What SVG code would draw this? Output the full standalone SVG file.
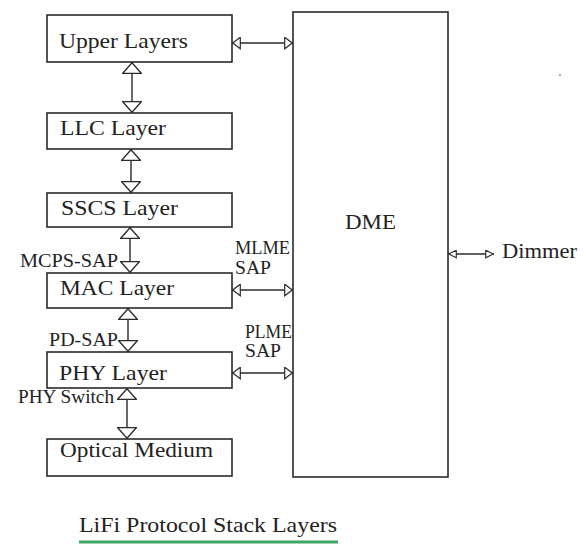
<svg xmlns="http://www.w3.org/2000/svg" width="586" height="554" viewBox="0 0 586 554">
<style>
.box{fill:#fff;stroke:#2a2a2a;stroke-width:1.6}
text{font-family:'Liberation Serif','DejaVu Serif',serif;fill:#222}
.lbl{font-size:22px}
.sm{font-size:18px}
.ln{stroke:#2a2a2a;stroke-width:1.4;fill:none}
.v{marker-start:url(#tv);marker-end:url(#tv)}
.h{marker-start:url(#th);marker-end:url(#th)}
.d{marker-start:url(#td);marker-end:url(#td)}
</style>
<defs>
<marker id="tv" viewBox="0 0 12 20" refX="12" refY="10" markerWidth="12" markerHeight="20" markerUnits="userSpaceOnUse" orient="auto-start-reverse">
<path d="M0.7,0.7 L11.3,10 L0.7,19.3 Z" fill="#fff" stroke="#2a2a2a" stroke-width="1.3"/>
</marker>
<marker id="th" viewBox="0 0 9 13" refX="9" refY="6.5" markerWidth="9" markerHeight="13" markerUnits="userSpaceOnUse" orient="auto-start-reverse">
<path d="M0.7,0.7 L8.3,6.5 L0.7,12.3 Z" fill="#fff" stroke="#2a2a2a" stroke-width="1.2"/>
</marker>
<marker id="td" viewBox="0 0 9 9" refX="9" refY="4.5" markerWidth="9" markerHeight="9" markerUnits="userSpaceOnUse" orient="auto-start-reverse">
<path d="M0.7,0.7 L8.3,4.5 L0.7,8.3 Z" fill="#fff" stroke="#2a2a2a" stroke-width="1.1"/>
</marker>
</defs>
<rect width="586" height="554" fill="#fff"/>

<g id="connectors">
<line class="ln v" x1="132" y1="62" x2="132" y2="113"/>
<line class="ln v" x1="131" y1="149" x2="131" y2="193"/>
<line class="ln v" x1="130" y1="227" x2="130" y2="273"/>
<line class="ln v" x1="128" y1="308" x2="128" y2="352"/>
<line class="ln v" x1="127" y1="388" x2="127" y2="439"/>
<line class="ln h" x1="232" y1="43" x2="293" y2="43"/>
<line class="ln h" x1="232" y1="290" x2="293" y2="290"/>
<line class="ln h" x1="232" y1="373" x2="293" y2="373"/>
<line class="ln d" x1="448" y1="254" x2="494" y2="254"/>
</g>

<g id="upper-layers">
<rect class="box" x="47" y="15" width="185" height="47"/>
<text class="lbl" x="59" y="48" textLength="129" lengthAdjust="spacingAndGlyphs">Upper Layers</text>
</g>
<g id="llc-layer">
<rect class="box" x="47" y="113" width="185" height="36"/>
<text class="lbl" x="60" y="135" textLength="106" lengthAdjust="spacingAndGlyphs">LLC Layer</text>
</g>
<g id="sscs-layer">
<rect class="box" x="47" y="193" width="185" height="34"/>
<text class="lbl" x="61" y="215" textLength="117" lengthAdjust="spacingAndGlyphs">SSCS Layer</text>
</g>
<g id="mac-layer">
<rect class="box" x="47" y="273" width="185" height="35"/>
<text class="lbl" x="60" y="295" textLength="114" lengthAdjust="spacingAndGlyphs">MAC Layer</text>
</g>
<g id="phy-layer">
<rect class="box" x="47" y="352" width="185" height="36"/>
<text class="lbl" x="59" y="380" textLength="108" lengthAdjust="spacingAndGlyphs">PHY Layer</text>
</g>
<g id="optical-medium">
<rect class="box" x="47" y="439" width="185" height="37"/>
<text class="lbl" x="60" y="457" textLength="153" lengthAdjust="spacingAndGlyphs">Optical Medium</text>
</g>
<g id="dme">
<rect class="box" x="293" y="12" width="155" height="465"/>
<text class="lbl" x="345" y="229" textLength="51" lengthAdjust="spacingAndGlyphs">DME</text>
</g>
<g id="dimmer">
<text class="lbl" x="502" y="258" textLength="75" lengthAdjust="spacingAndGlyphs">Dimmer</text>
</g>

<g id="labels">
<text class="sm" x="235" y="254" textLength="55" lengthAdjust="spacingAndGlyphs">MLME</text>
<text class="sm" x="235" y="274" textLength="36" lengthAdjust="spacingAndGlyphs">SAP</text>
<text class="sm" x="245" y="338" textLength="47" lengthAdjust="spacingAndGlyphs">PLME</text>
<text class="sm" x="245" y="357" textLength="36" lengthAdjust="spacingAndGlyphs">SAP</text>
<text class="sm" x="20" y="267" textLength="98" lengthAdjust="spacingAndGlyphs">MCPS-SAP</text>
<text class="sm" x="49" y="346" textLength="69" lengthAdjust="spacingAndGlyphs">PD-SAP</text>
<text class="sm" x="18" y="403" textLength="96" lengthAdjust="spacingAndGlyphs">PHY Switch</text>
</g>

<g id="title">
<text class="lbl" x="79" y="532" textLength="258" lengthAdjust="spacingAndGlyphs">LiFi Protocol Stack Layers</text>
<line x1="79" y1="542" x2="338" y2="542" stroke="#3da565" stroke-width="3"/>
</g>
<circle cx="560" cy="75" r="0.9" fill="#888"/>
</svg>
